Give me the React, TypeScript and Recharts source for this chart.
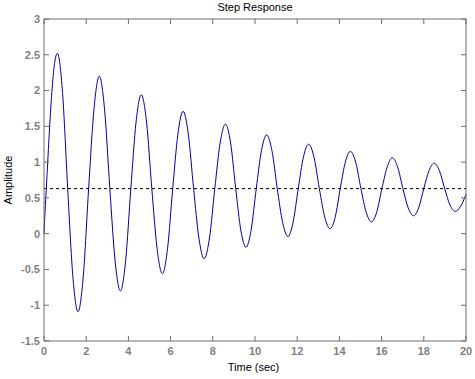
import { LineChart, Line, XAxis, YAxis, ReferenceLine } from 'recharts';

// sample times (s): extremes, mean crossings and points in between
const time = [
  0, 0.05, 0.11, 0.24, 0.37, 0.5, 0.635,
  0.879, 1.123, 1.366, 1.61,
  1.863, 2.115, 2.368, 2.62,
  2.87, 3.12, 3.37, 3.62,
  3.868, 4.115, 4.363, 4.61,
  4.86, 5.11, 5.36, 5.61,
  5.855, 6.1, 6.345, 6.59,
  6.84, 7.09, 7.34, 7.59,
  7.843, 8.095, 8.348, 8.6,
  8.843, 9.085, 9.328, 9.57,
  9.815, 10.06, 10.305, 10.55,
  10.803, 11.055, 11.308, 11.56,
  11.805, 12.05, 12.295, 12.54,
  12.795, 13.05, 13.305, 13.56,
  13.8, 14.04, 14.28, 14.52,
  14.77, 15.02, 15.27, 15.52,
  15.768, 16.015, 16.263, 16.51,
  16.76, 17.01, 17.26, 17.51,
  17.755, 18.0, 18.245, 18.49,
  18.74, 18.99, 19.24, 19.49,
  19.74, 20,
];

const amplitude = [
  0, 0.31, 0.63, 1.35, 1.97, 2.38, 2.52,
  1.97, 0.63, -0.59, -1.09,
  -0.59, 0.63, 1.74, 2.2,
  1.74, 0.63, -0.38, -0.8,
  -0.38, 0.63, 1.56, 1.94,
  1.56, 0.63, -0.21, -0.56,
  -0.21, 0.63, 1.39, 1.71,
  1.39, 0.63, -0.06, -0.35,
  -0.06, 0.63, 1.27, 1.53,
  1.27, 0.63, 0.05, -0.19,
  0.05, 0.63, 1.16, 1.38,
  1.16, 0.63, 0.16, -0.04,
  0.16, 0.63, 1.07, 1.25,
  1.07, 0.63, 0.23, 0.07,
  0.23, 0.63, 1.0, 1.15,
  1.0, 0.63, 0.3, 0.165,
  0.3, 0.63, 0.93, 1.06,
  0.93, 0.63, 0.36, 0.25,
  0.36, 0.63, 0.88, 0.985,
  0.88, 0.63, 0.4, 0.31,
  0.38, 0.55,
];

const finalValue = 0.63;
const xTicks = [0, 2, 4, 6, 8, 10, 12, 14, 16, 18, 20];
const yTicks = [-1.5, -1, -0.5, 0, 0.5, 1, 1.5, 2, 2.5, 3];

const data = time.map((t, i) => ({ t, y: amplitude[i] }));

const frame = '#6e6e6e';
const tickColor = '#808080';
const font = 'Arial, "Liberation Sans", Helvetica, sans-serif';

const BottomTick = ({ x, y, payload }: any) => (
  <g>
    <line x1={x} y1={y} x2={x} y2={y - 5} stroke={frame} />
    <text x={x} y={y + 10} dy="0.35em" textAnchor="middle" fill={tickColor} fontSize={11} fontWeight="bold" fontFamily={font}>
      {payload.value}
    </text>
  </g>
);

const LeftTick = ({ x, y, payload }: any) => (
  <g>
    <line x1={x} y1={y} x2={x + 5} y2={y} stroke={frame} />
    <text x={x - 4} y={y} dy="0.35em" textAnchor="end" fill={tickColor} fontSize={11} fontWeight="bold" fontFamily={font}>
      {payload.value}
    </text>
  </g>
);

const TopTick = ({ x, y }: any) => <line x1={x} y1={y} x2={x} y2={y + 5} stroke={frame} />;
const RightTick = ({ x, y }: any) => <line x1={x} y1={y} x2={x - 5} y2={y} stroke={frame} />;

export default function App() {
  return (
    <div style={{ position: 'absolute', left: 0, top: 0, width: 475, height: 379, background: '#fff', fontFamily: font }}>
      <LineChart width={475} height={379} data={data} margin={{ top: 0, right: 0, bottom: 0, left: 0 }}>
        <XAxis
          xAxisId="b" dataKey="t" type="number" domain={[0, 20]} ticks={xTicks} height={38}
          tickSize={0} tickMargin={0} tick={<BottomTick />} stroke={frame} interval={0}
        />
        <XAxis
          xAxisId="top" dataKey="t" orientation="top" type="number" domain={[0, 20]} ticks={xTicks} height={19}
          tickSize={0} tickMargin={0} tick={<TopTick />} stroke={frame} interval={0} allowDataOverflow
        />
        <YAxis
          yAxisId="l" type="number" domain={[-1.5, 3]} ticks={yTicks} width={44}
          tickSize={0} tickMargin={0} tick={<LeftTick />} stroke={frame} interval={0} allowDataOverflow
        />
        <YAxis
          yAxisId="r" orientation="right" type="number" domain={[-1.5, 3]} ticks={yTicks} width={9}
          tickSize={0} tickMargin={0} tick={<RightTick />} stroke={frame} interval={0} allowDataOverflow
        />
        <ReferenceLine xAxisId="b" yAxisId="l" y={finalValue} stroke="#000" strokeDasharray="3 3" />
        <Line
          xAxisId="b" yAxisId="l" dataKey="y" type="monotone" stroke="#0000a8" strokeWidth={1}
          dot={false} isAnimationActive={false}
        />
      </LineChart>
      <div style={{ position: 'absolute', left: 0, width: 510, top: 1, textAlign: 'center', fontSize: 11, color: '#000' }}>
        Step Response
      </div>
      <div style={{ position: 'absolute', left: 0, width: 507, top: 361, textAlign: 'center', fontSize: 11, color: '#000' }}>
        Time (sec)
      </div>
      <div
        style={{
          position: 'absolute', left: 8, top: 180, fontSize: 11, color: '#000', whiteSpace: 'nowrap',
          transform: 'translate(-50%, -50%) rotate(-90deg)',
        }}
      >
        Amplitude
      </div>
    </div>
  );
}
